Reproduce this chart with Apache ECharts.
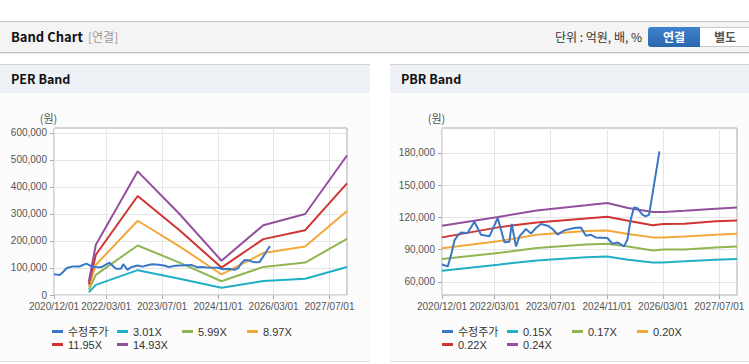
<!DOCTYPE html>
<html><head><meta charset="utf-8">
<script src="https://cdn.jsdelivr.net/npm/echarts@6/dist/echarts.min.js"></script>
<style>
html,body{margin:0;padding:0;background:#fff;width:749px;height:364px;overflow:hidden;font-family:'Noto Sans CJK KR','Liberation Sans',sans-serif;}
.hdr{position:absolute;left:0;top:21px;width:770px;height:30px;border-top:1px solid #c4c4c4;border-bottom:1px solid #b9b9b9;background:#f4f4f4;box-shadow:0 1px 2px rgba(0,0,0,0.10);}
.hdr .t{position:absolute;left:11px;top:0;line-height:30px;font-size:13px;font-weight:bold;color:#111;}
.hdr .s{position:absolute;left:88px;top:0;line-height:30px;font-size:12px;color:#999;}
.hdr .u{position:absolute;right:128px;top:0;line-height:30px;font-size:12px;color:#333;white-space:nowrap;}
.btn1{position:absolute;left:648px;top:5px;width:52px;height:20px;line-height:20px;text-align:center;font-size:12px;font-weight:bold;color:#fff;background:linear-gradient(#3f82cf,#2a66ad);border-radius:3px 0 0 3px;}
.btn2{position:absolute;left:700px;top:5px;width:50px;height:18px;line-height:18px;text-align:center;font-size:12px;font-weight:bold;color:#555;background:#fff;border:1px solid #c8c8c8;border-left:none;}
.pan{position:absolute;top:64px;height:296px;border-top:1px solid #d3d3d3;border-bottom:1px solid #dcdcdc;background:#fcfcfc;}
.pan .tb{height:28px;line-height:28px;background:#eef1f5;font-size:12.5px;font-weight:bold;color:#111;padding-left:11px;}
#c{position:absolute;left:0;top:0;width:749px;height:364px;}
</style></head>
<body>
<div class="hdr"><span class="t">Band Chart</span><span class="s">[연결]</span><span class="u">단위 : 억원, 배, %</span><div class="btn1">연결</div><div class="btn2">별도</div></div>
<div class="pan" style="left:0;width:370px;"><div class="tb">PER Band</div></div>
<div class="pan" style="left:390px;width:370px;"><div class="tb">PBR Band</div></div>
<div id="c"></div>
<script>
// ---- data ----
const xTickLabels = ['2020/12/01','2022/03/01','2023/07/01','2024/11/01','2026/03/01','2027/07/01'];
const xStart = '2020-12-01';
const xEnd = '2027-12-01';

const priceDates = ['2020-12-01','2020-12-20','2021-01-20','2021-02-20','2021-03-20','2021-04-15','2021-05-15','2021-07-10','2021-09-08','2021-11-04',
  '2022-01-16','2022-03-29','2022-05-26','2022-07-08','2022-07-28','2022-09-03','2022-10-03','2022-11-29','2023-01-11','2023-02-23',
  '2023-04-07','2023-06-04','2023-07-17','2023-08-30','2023-10-27','2024-01-21','2024-03-18','2024-05-01','2024-06-10','2024-07-24',
  '2024-11-03','2024-12-16','2025-01-29','2025-03-27','2025-04-25','2025-05-24','2025-06-22','2025-07-21','2025-09-02','2025-10-01',
  '2025-10-30','2025-11-28','2026-01-28'];
const priceValues = [76500,75500,74500,86000,99000,103000,106000,105500,116000,104000,
  102500,119500,97000,97500,114000,93000,102500,109300,105000,110200,
  114000,112400,109300,104000,108000,110200,110800,103100,104000,101500,
  100900,95600,96800,93100,99300,118000,129400,128800,122600,121000,
  122600,141200,181500];

const perDates = ['2021-10-01','2021-12-01','2022-12-01','2023-12-01','2024-12-01','2025-12-01','2026-12-01','2027-12-01'];
const per301  = [10000, 37500, 92000, 60500, 27000, 52000, 60500, 104000];
const per599  = [20000, 74600,183500,120000, 51000,104000,120000, 207500];
const per897  = [30000,111800,275000,180000, 76000,155500,180000, 311000];
const per1195 = [40000,149000,366500,240000,101500,207000,240000, 413500];
const per1493 = [50000,186000,458000,300000,127000,258500,300000, 516500];
const perYTicks = [0,100000,200000,300000,400000,500000,600000];

const pbrDates = ['2020-12-01','2022-04-01','2023-03-01','2024-05-01','2024-11-01','2025-05-01','2025-12-01','2026-03-01','2026-09-01','2027-06-01','2027-12-01'];
const pbr015 = [70500, 76100, 80100, 83100, 83800, 80700, 78200, 78200, 79200, 80700, 81400];
const pbr017 = [81400, 87000, 91600, 94800, 95600, 93100, 89400, 90300, 90300, 92200, 93100];
const pbr020 = [91300, 97800,104000,107500,108000,104700,101500,101500,102400,104000,104900];
const pbr022 = [101500,110800,115400,119100,120700,117000,112700,114000,114200,116400,117300];
const pbr024 = [112400,120500,126600,131300,133500,128800,125100,125100,126300,128200,129400];
const pbrYTicks = [60000,90000,120000,150000,180000];

const perNames = ['3.01X','5.99X','8.97X','11.95X','14.93X'];
const pbrNames = ['0.15X','0.17X','0.20X','0.22X','0.24X'];
const priceName = '수정주가';
const colors = ['#3a77c6','#1fb0c6','#8fb652','#f3a83b','#cf3430','#94509e'];

// ---- build ----
const ts = s => Date.parse(s);
const pad = n => (n < 10 ? '0' : '') + n;
const fmtDate = v => { const d = new Date(v); return d.getUTCFullYear() + '/' + pad(d.getUTCMonth() + 1) + '/' + pad(d.getUTCDate()); };
const xTickVals = xTickLabels.map(s => ts(s.replace(/\//g, '-')));
const fmtNum = v => v.toLocaleString('en-US');

const FONT = "'Liberation Sans','Noto Sans CJK KR',sans-serif";

function xAxis(gi) {
  return {
    type: 'value', gridIndex: gi, min: ts(xStart), max: ts(xEnd),
    axisLine: { show: false },
    axisTick: { show: true, length: 4, lineStyle: { color: '#aaa' }, customValues: xTickVals },
    axisLabel: { customValues: xTickVals, formatter: fmtDate, color: '#555', fontSize: 10, fontFamily: FONT, margin: 6 },
    splitLine: { show: true, lineStyle: { color: '#e6e6e6', width: 1 } }
  };
}
function yAxis(gi, min, max, ticks) {
  return {
    type: 'value', gridIndex: gi, min: min, max: max,
    name: '(원)', nameLocation: 'end', nameGap: 5,
    nameTextStyle: { color: '#555', fontSize: 11, fontFamily: "'Noto Sans CJK KR',sans-serif", align: 'center', padding: [0, 11, 0, 0] },
    axisLine: { show: false },
    axisTick: { show: true, length: 4, lineStyle: { color: '#aaa' }, customValues: ticks },
    axisLabel: { customValues: ticks, formatter: fmtNum, color: '#555', fontSize: 10, fontFamily: FONT, margin: 7 },
    splitLine: { show: true, lineStyle: { color: '#e6e6e6', width: 1 } }
  };
}
function line(name, dates, vals, color, gi, z) {
  return {
    type: 'line', name: name, xAxisIndex: gi, yAxisIndex: gi,
    data: dates.map((d, i) => [ts(d), vals[i]]),
    symbol: 'none', showSymbol: false, z: z || 2,
    lineStyle: { width: 2, color: color }, itemStyle: { color: color },
    emphasis: { disabled: true }, silent: true
  };
}

const series = [
  line(priceName, priceDates, priceValues, colors[0], 0, 5),
  line(perNames[0], perDates, per301, colors[1], 0),
  line(perNames[1], perDates, per599, colors[2], 0),
  line(perNames[2], perDates, per897, colors[3], 0),
  line(perNames[3], perDates, per1195, colors[4], 0),
  line(perNames[4], perDates, per1493, colors[5], 0),
  line(priceName, priceDates, priceValues, colors[0], 1, 5),
  line(pbrNames[0], pbrDates, pbr015, colors[1], 1),
  line(pbrNames[1], pbrDates, pbr017, colors[2], 1),
  line(pbrNames[2], pbrDates, pbr020, colors[3], 1),
  line(pbrNames[3], pbrDates, pbr022, colors[4], 1),
  line(pbrNames[4], pbrDates, pbr024, colors[5], 1)
];

function legend(left, names) {
  return {
    data: [priceName].concat(names), left: left, top: 325, width: 266, padding: 0,
    orient: 'horizontal', itemGap: 0, itemWidth: 11, itemHeight: 3, icon: 'rect',
    textStyle: { color: '#333', fontSize: 11, fontFamily: FONT, width: 49, lineHeight: 13 },
    selectedMode: false
  };
}

const chart = echarts.init(document.getElementById('c'), null, { renderer: 'svg' });
chart.setOption({
  animation: false,
  backgroundColor: 'transparent',
  color: colors,
  grid: [
    { left: 54, top: 128, width: 293, height: 167, show: true, borderColor: '#aaa', borderWidth: 1, backgroundColor: '#fff', containLabel: false },
    { left: 442, top: 128, width: 295, height: 167, show: true, borderColor: '#aaa', borderWidth: 1, backgroundColor: '#fff', containLabel: false }
  ],
  xAxis: [xAxis(0), xAxis(1)],
  yAxis: [yAxis(0, 0, 618500, perYTicks), yAxis(1, 47900, 203250, pbrYTicks)],
  legend: [legend(52, perNames), legend(442, pbrNames)],
  series: series
});
</script>
</body></html>
